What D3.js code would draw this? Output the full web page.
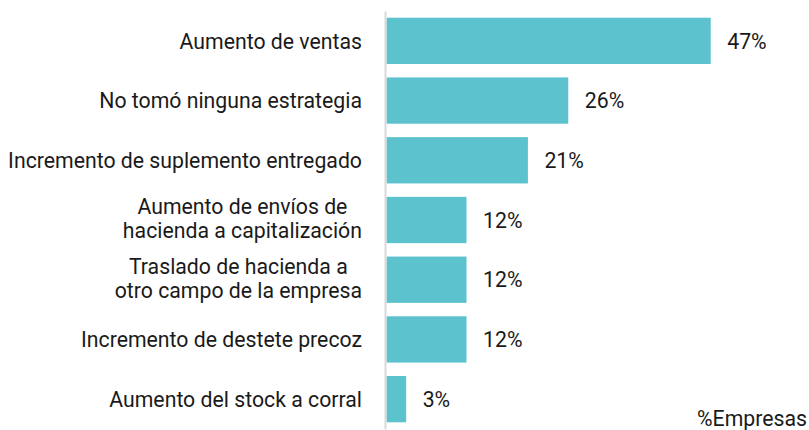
<!DOCTYPE html>
<html>
<head>
<meta charset="utf-8">
<script src="https://cdn.jsdelivr.net/npm/d3@7"></script>
<style>
  body { margin: 0; background: #fff; }
  text { font-family: Roboto, "Noto Sans", sans-serif; fill: #1a1a1a; }
</style>
</head>
<body>
<div id="chart"></div>
<script>
// data
var categories = [
  ["Aumento de ventas"],
  ["No tomó ninguna estrategia"],
  ["Incremento de suplemento entregado"],
  ["Aumento de envíos de", "hacienda a capitalización"],
  ["Traslado de hacienda a", "otro campo de la empresa"],
  ["Incremento de destete precoz"],
  ["Aumento del stock a corral"]
];
var values = [47, 26.35, 20.5, 11.6, 11.6, 11.6, 2.85];
var valueLabels = ["47%", "26%", "21%", "12%", "12%", "12%", "3%"];
var axisTitle = "%Empresas";

var svgWidth = 809;
var svgHeight = 430;
var fontSize = 22;

var svg = d3.select("#chart")
  .append("svg")
  .attr("width", svgWidth)
  .attr("height", svgHeight);

var idx = d3.range(values.length);

var xScale = d3.scaleLinear()
  .domain([0, 47])
  .range([386.5, 710.7]);

var yScale = d3.scaleBand()
  .domain(idx)
  .range([11, 429])
  .paddingInner(0.225)
  .paddingOuter(0.1125);

// bars
svg.append("g")
  .selectAll("rect")
  .data(idx)
  .enter()
  .append("rect")
  .attr("x", xScale(0))
  .attr("y", i => yScale(i))
  .attr("width", i => xScale(values[i]) - xScale(0))
  .attr("height", yScale.bandwidth())
  .attr("fill", "#5bc2ce");

// vertical axis line (no ticks)
var yAxis = svg.append("g")
  .attr("transform", "translate(385,0)")
  .call(d3.axisLeft(yScale).tickSize(0).tickFormat(""));
yAxis.select(".domain")
  .attr("stroke", "#d9d9d9")
  .attr("stroke-width", 2);

// category labels (multi-line ones are centred as a block)
var labels = svg.append("g")
  .selectAll("text")
  .data(idx)
  .enter()
  .append("text")
  .attr("font-size", fontSize);

labels.each(function(i) {
  var lines = categories[i];
  var t = d3.select(this);
  var lh = 23.5;
  var first = -(lines.length - 1) * lh / 2 - (lines.length - 1) * 1.5;
  lines.forEach(function(line, j) {
    t.append("tspan")
      .attr("x", 0)
      .attr("y", first + j * lh)
      .attr("dy", "0.35em")
      .text(line);
  });
});

// squeeze text horizontally to match the narrow face in the picture
var longest = labels.filter(i => i === 2).node().getComputedTextLength();
var k = 354 / longest;

labels.each(function(i) {
  var t = d3.select(this);
  var cy = yScale(i) + yScale.bandwidth() / 2;
  if (categories[i].length > 1) {
    var w = d3.max(t.selectAll("tspan").nodes(), n => n.getComputedTextLength()) * k;
    t.attr("text-anchor", "middle")
      .attr("transform", `translate(${362 - w / 2}, ${cy}) scale(${k},1)`);
  } else {
    t.attr("text-anchor", "end")
      .attr("transform", `translate(362, ${cy}) scale(${k},1)`);
  }
});

// value labels
svg.append("g")
  .selectAll("text")
  .data(idx)
  .enter()
  .append("text")
  .attr("font-size", fontSize)
  .attr("dy", "0.35em")
  .attr("transform", i => `translate(${xScale(values[i]) + 16.5}, ${yScale(i) + yScale.bandwidth() / 2}) scale(${k},1)`)
  .text(i => valueLabels[i]);

// axis title
svg.append("text")
  .attr("font-size", fontSize)
  .attr("text-anchor", "end")
  .attr("transform", `translate(807, 426) scale(${k},1)`)
  .text(axisTitle);
</script>
</body>
</html>
